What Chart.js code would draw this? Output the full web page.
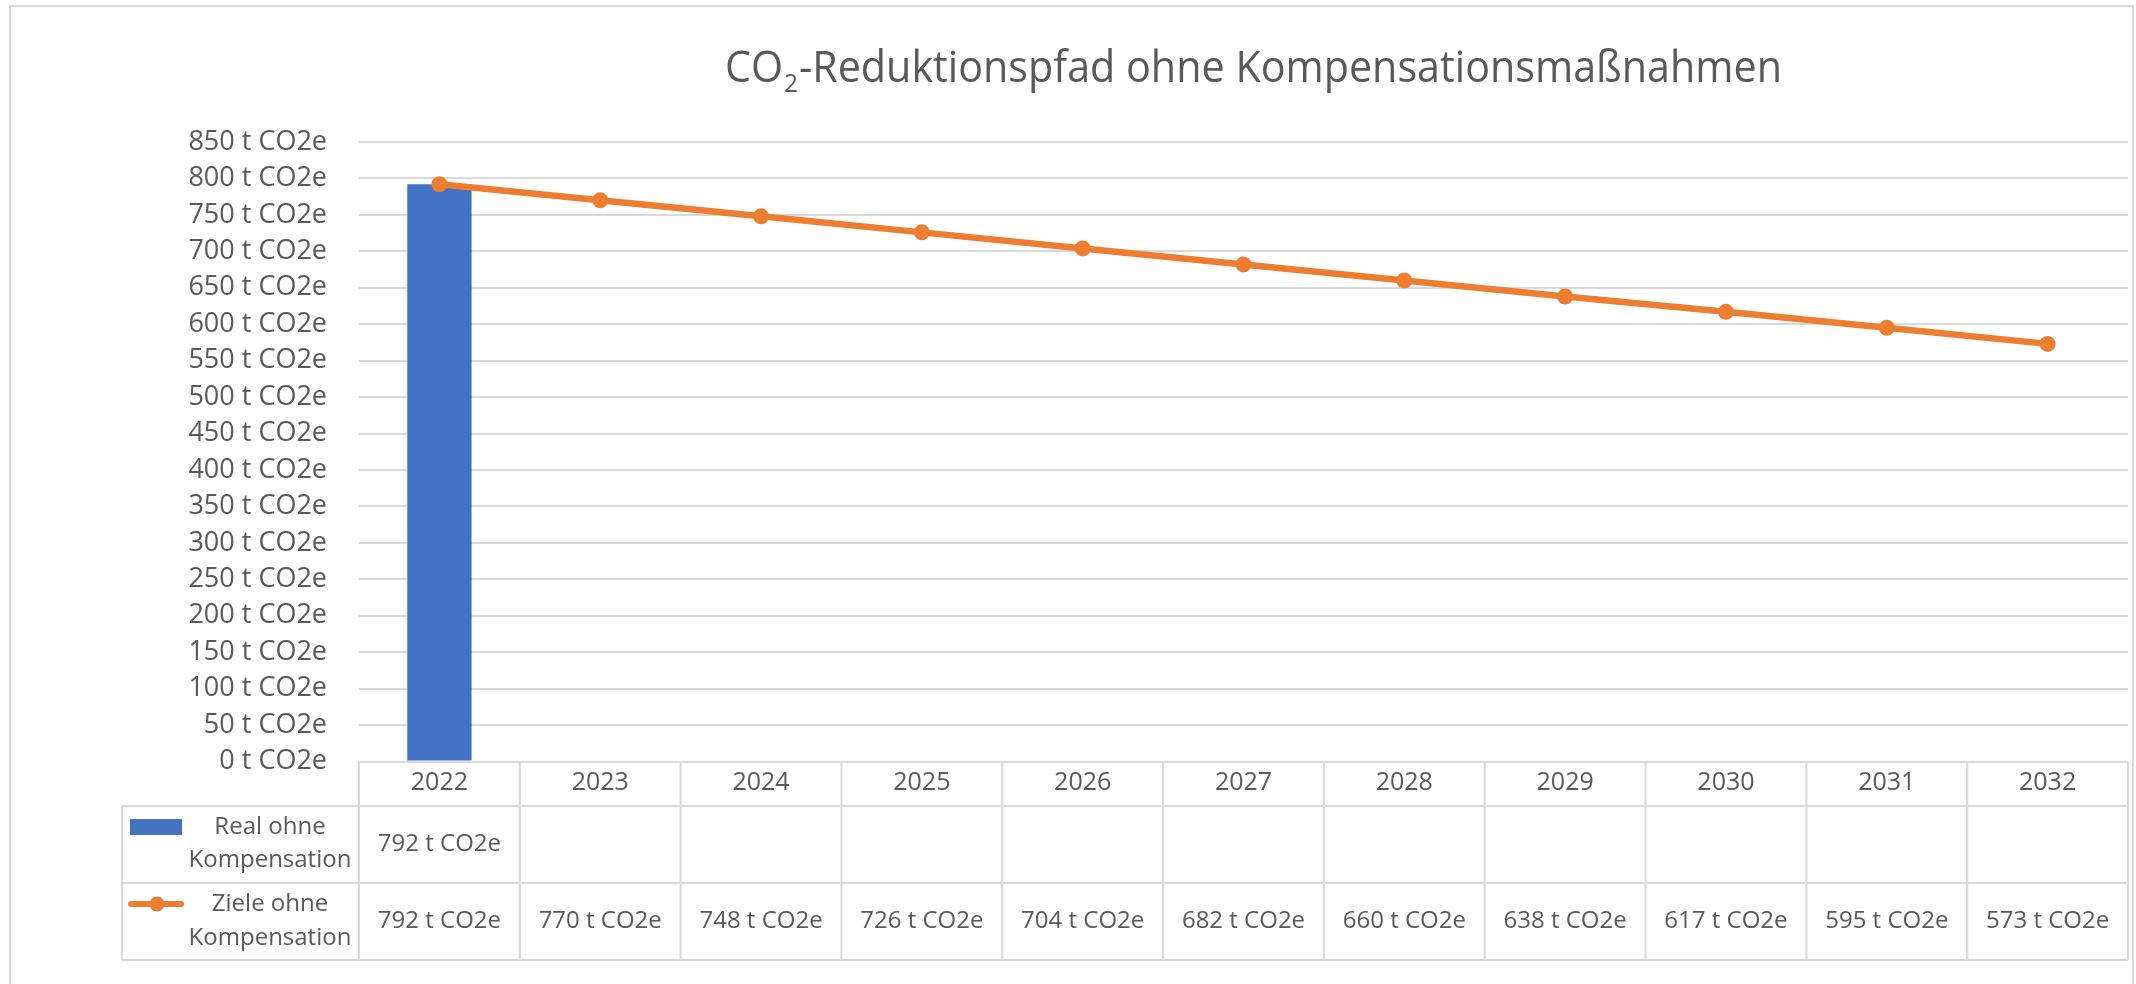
<!DOCTYPE html>
<html>
<head>
<meta charset="utf-8">
<title>CO2-Reduktionspfad</title>
<script src="https://cdn.jsdelivr.net/npm/chart.js@4.4.1/dist/chart.umd.min.js"></script>
<style>
    html, body { margin: 0; padding: 0; background: #ffffff; }
    canvas { display: block; }
</style>
</head>
<body>
<canvas id="co2Chart" width="2136" height="984"></canvas>
<script>
"use strict";

// chart data
var years        = ["2022", "2023", "2024", "2025", "2026", "2027", "2028", "2029", "2030", "2031", "2032"];
var realValues   = [792, null, null, null, null, null, null, null, null, null, null];
var targetValues = [792, 770, 748, 726, 704, 682, 660, 638, 617, 595, 573];
var seriesNames  = [["Real ohne", "Kompensation"], ["Ziele ohne", "Kompensation"]];
var titleParts   = ["CO", "2", "-Reduktionspfad ohne Kompensationsmaßnahmen"];
var unitSuffix   = " t CO2e";
var yMax         = 850;
var yStep        = 50;

var FONT       = "'Open Sans', 'Noto Sans', sans-serif";
var TEXT_COLOR = "#595959";
var GRID_COLOR = "#d9d9d9";
var BLUE       = "#4472c4";
var ORANGE     = "#ed7d31";

function fmt(v)
{
    return v + unitSuffix;
}

// frame + title
var framePlugin = {
    id: "frame",
    beforeDraw: function (chart)
    {
        var ctx = chart.ctx;
        ctx.save();
        ctx.fillStyle = "#ffffff";
        ctx.fillRect(0, 0, chart.width, chart.height);
        ctx.strokeStyle = GRID_COLOR;
        ctx.lineWidth   = 2;
        ctx.beginPath();
        ctx.moveTo(10, chart.height);
        ctx.lineTo(10, 6);
        ctx.lineTo(2133, 6);
        ctx.lineTo(2133, chart.height);
        ctx.stroke();

        // title with subscript 2, squeezed a little to the reference width
        var big   = "44px " + FONT;
        var small = "26px " + FONT;
        ctx.font = big;
        var w1 = ctx.measureText(titleParts[0]).width;
        var w3 = ctx.measureText(titleParts[2]).width;
        ctx.font = small;
        var w2 = ctx.measureText(titleParts[1]).width;
        var total = w1 + w2 + w3 + 2;
        var k     = 1057 / total;
        ctx.translate(725, 0);
        ctx.scale(k, 1);
        ctx.fillStyle    = TEXT_COLOR;
        ctx.textBaseline = "alphabetic";
        ctx.textAlign    = "left";
        ctx.font = big;
        ctx.fillText(titleParts[0], 0, 82);
        ctx.font = small;
        ctx.fillText(titleParts[1], w1 + 1, 92);
        ctx.font = big;
        ctx.fillText(titleParts[2], w1 + w2 + 2, 82);
        ctx.restore();
    }
};

// data table under the x axis
var tablePlugin = {
    id: "dataTable",
    afterDraw: function (chart)
    {
        var ctx    = chart.ctx;
        var xs     = chart.scales.x;
        var area   = chart.chartArea;
        var colW   = (area.right - area.left) / years.length;
        var top    = area.bottom;
        var rows   = [806, 883, 960];
        var legL   = 122;

        ctx.save();
        ctx.strokeStyle = GRID_COLOR;
        ctx.lineWidth   = 2;
        ctx.beginPath();
        for (var r = 0; r < rows.length; r++)
        {
            ctx.moveTo(legL, rows[r]);
            ctx.lineTo(area.right, rows[r]);
        }
        ctx.moveTo(legL, rows[0]);
        ctx.lineTo(legL, rows[2]);
        for (var c = 0; c <= years.length; c++)
        {
            var bx = area.left + c * colW;
            ctx.moveTo(bx, top);
            ctx.lineTo(bx, rows[2]);
        }
        ctx.stroke();

        ctx.fillStyle    = TEXT_COLOR;
        ctx.textAlign    = "center";
        ctx.textBaseline = "middle";

        for (var i = 0; i < years.length; i++)
        {
            var cx = xs.getPixelForValue(i);
            ctx.font = "25px " + FONT;
            ctx.fillText(years[i], cx, 783);
            ctx.font = "24px " + FONT;
            if (realValues[i] !== null)
            {
                ctx.fillText(fmt(realValues[i]), cx, 844);
            }
            if (targetValues[i] !== null)
            {
                ctx.fillText(fmt(targetValues[i]), cx, 921);
            }
        }

        // legend keys
        ctx.fillText(seriesNames[0][0], 270, 827);
        ctx.fillText(seriesNames[0][1], 270, 860);
        ctx.fillText(seriesNames[1][0], 270, 904);
        ctx.fillText(seriesNames[1][1], 270, 938);

        ctx.fillStyle = BLUE;
        ctx.fillRect(130, 819, 52, 16);

        ctx.strokeStyle = ORANGE;
        ctx.lineWidth   = 6;
        ctx.lineCap     = "round";
        ctx.beginPath();
        ctx.moveTo(131, 904);
        ctx.lineTo(181, 904);
        ctx.stroke();
        ctx.fillStyle = ORANGE;
        ctx.beginPath();
        ctx.arc(157, 904, 7.5, 0, Math.PI * 2);
        ctx.fill();
        ctx.restore();
    }
};

new Chart(document.getElementById("co2Chart"), {
    type:    "bar",
    data:    {
        labels:   years,
        datasets: [
            {
                type:             "line",
                label:            seriesNames[1].join(" "),
                data:             targetValues,
                borderColor:      ORANGE,
                backgroundColor:  ORANGE,
                borderWidth:      6.5,
                pointRadius:      8,
                pointBorderWidth: 0,
                tension:          0,
                order:            0
            },
            {
                type:               "bar",
                label:              seriesNames[0].join(" "),
                data:               realValues,
                backgroundColor:    BLUE,
                categoryPercentage: 1,
                barPercentage:      0.4,
                order:              1
            }
        ]
    },
    options: {
        responsive:       false,
        animation:        false,
        devicePixelRatio: 1,
        layout:           {
            padding: { left: 0, right: 4, top: 142, bottom: 222.5 }
        },
        plugins: {
            legend:  { display: false },
            title:   { display: false },
            tooltip: { enabled: false }
        },
        scales: {
            x: {
                display: false,
                offset:  true
            },
            y: {
                min:    0,
                max:    yMax,
                border: { display: false },
                grid:   {
                    color:     GRID_COLOR,
                    lineWidth: 2,
                    drawTicks: false
                },
                ticks:  {
                    stepSize: yStep,
                    autoSkip: false,
                    padding:  32,
                    color:    TEXT_COLOR,
                    font:     { family: FONT, size: 27 },
                    callback: function (v)
                    {
                        return fmt(v);
                    }
                },
                afterFit: function (scale)
                {
                    scale.width = 359;
                }
            }
        }
    },
    plugins: [framePlugin, tablePlugin]
});
</script>
</body>
</html>
